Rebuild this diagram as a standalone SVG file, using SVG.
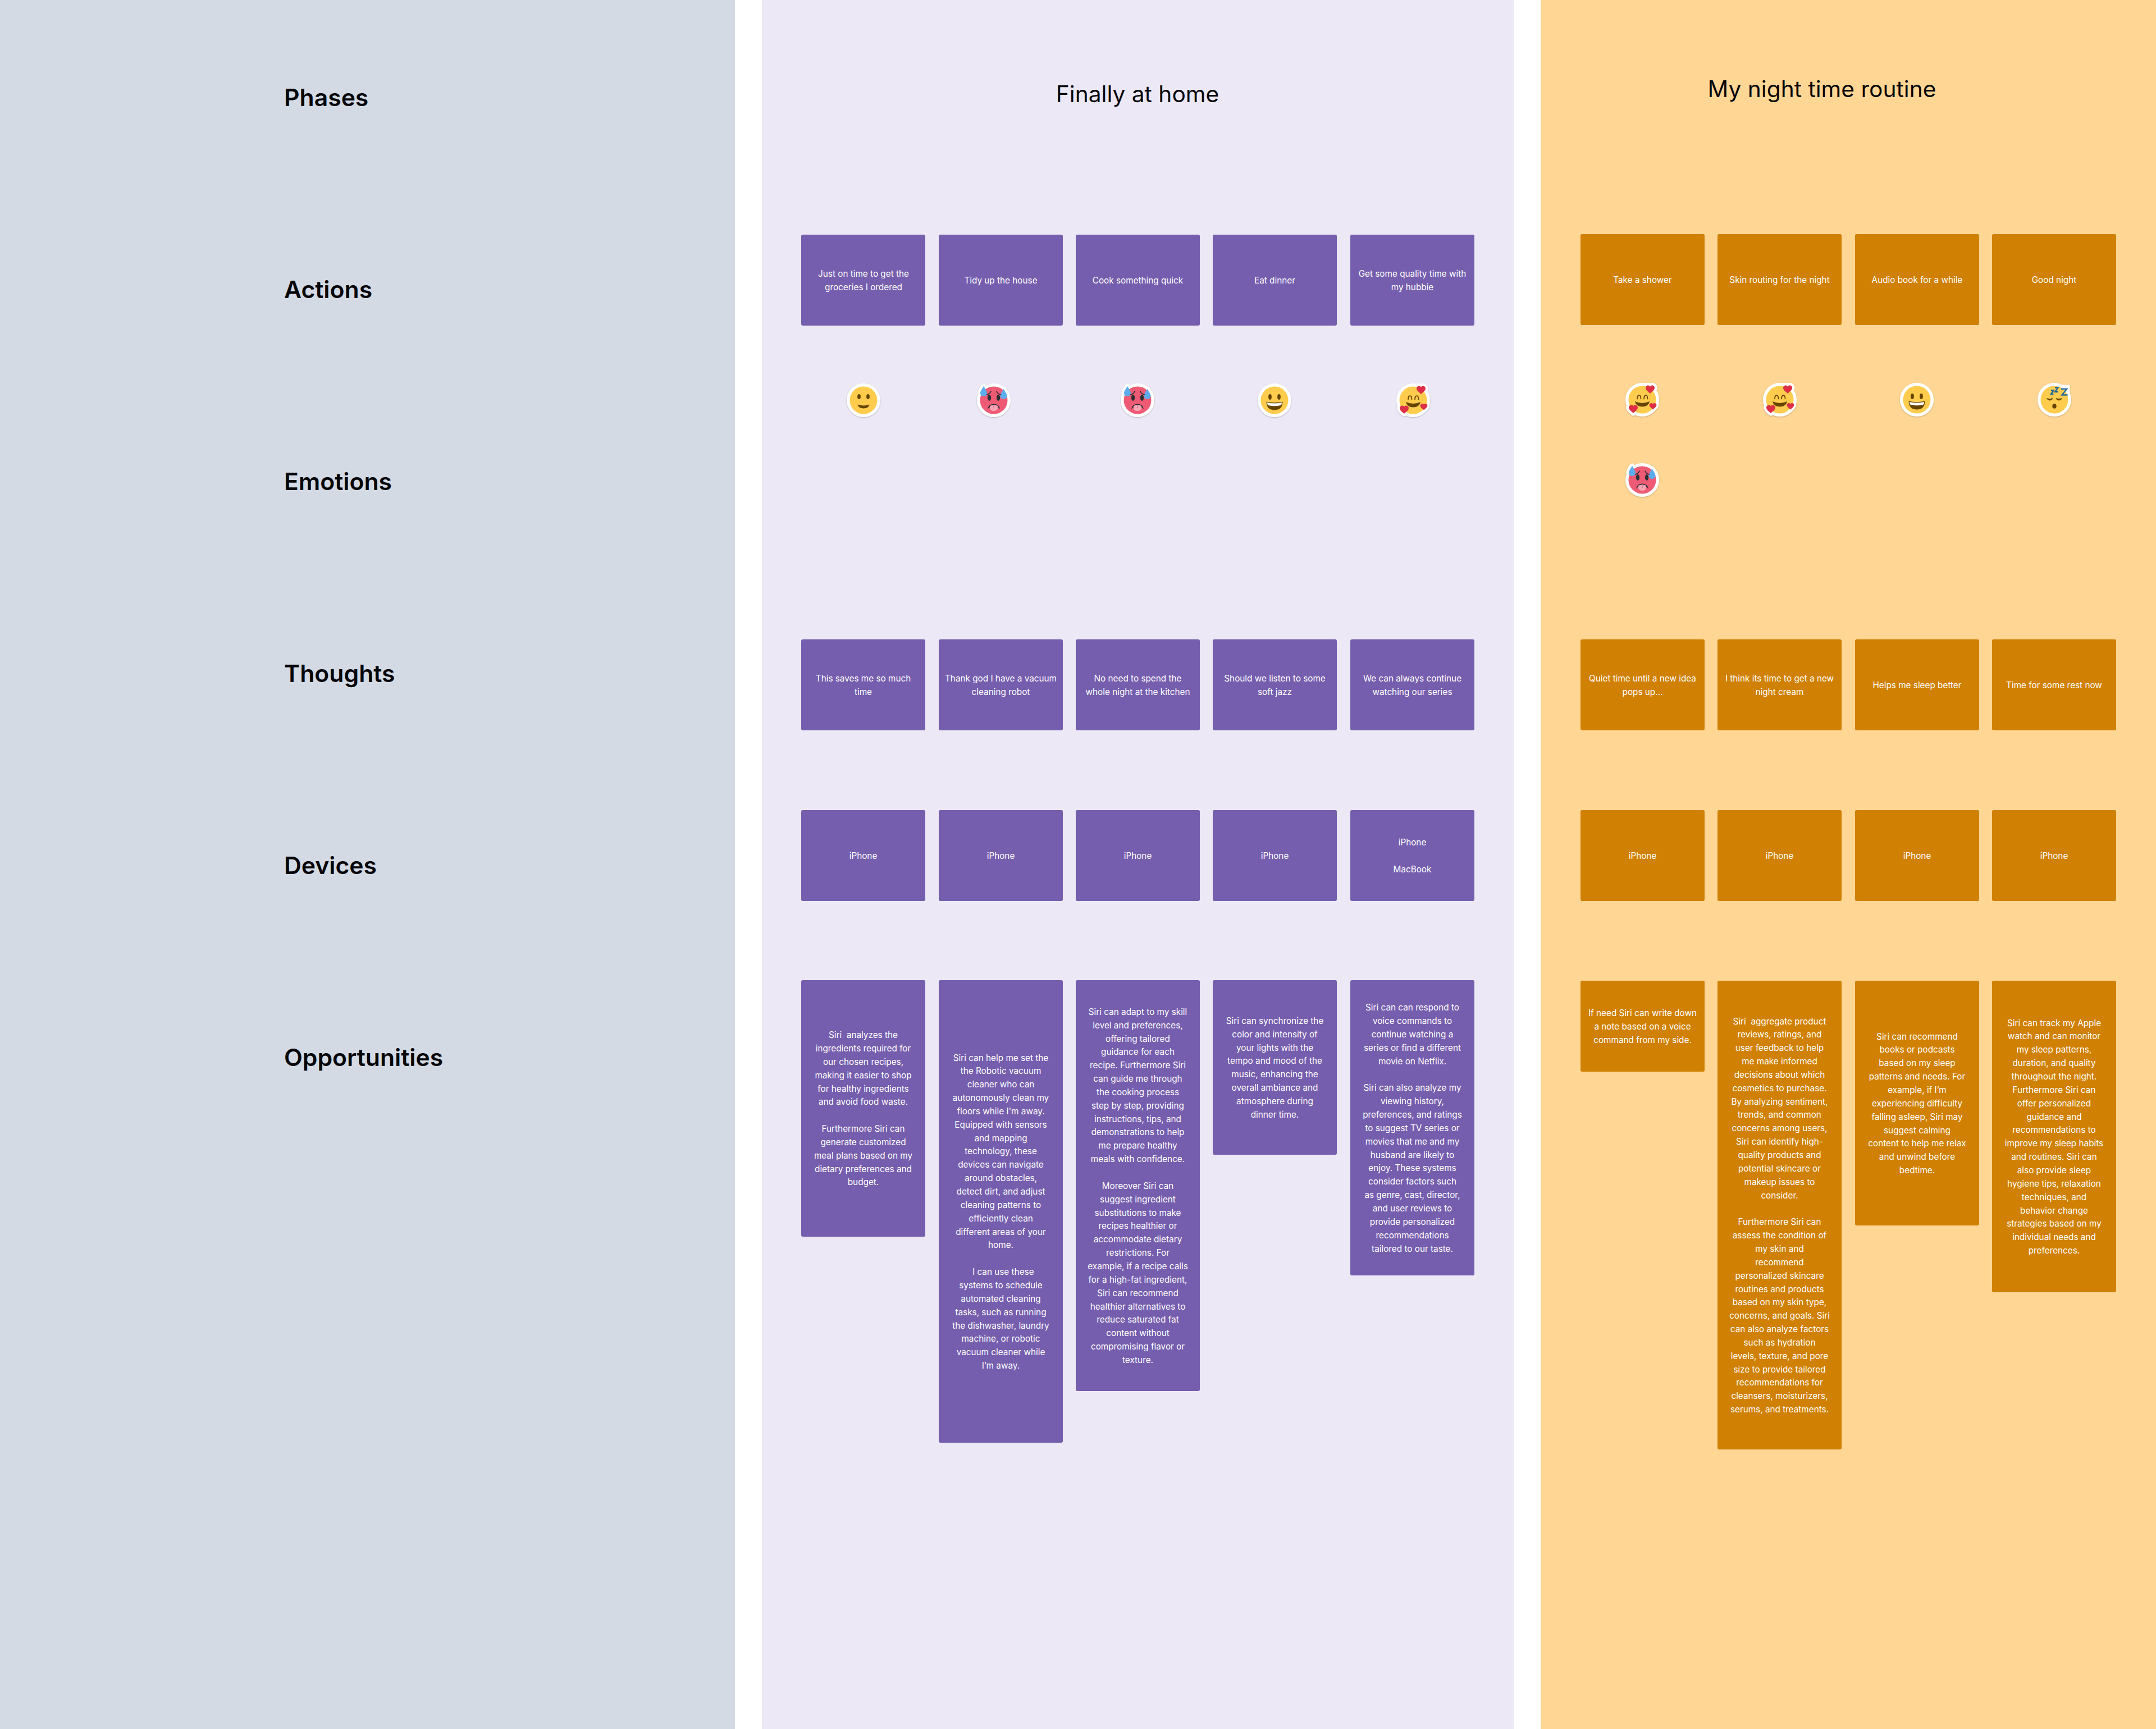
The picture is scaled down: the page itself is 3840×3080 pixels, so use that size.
<svg xmlns="http://www.w3.org/2000/svg" width="3840" height="3080" viewBox="0 0 3840 3080">
<style>
text{font-family:Inter,"Noto Sans","Liberation Sans",sans-serif}
.lab{font-size:42.7px;font-weight:600;fill:#050508}
.title{font-size:40.7px;font-weight:400;fill:#050508;text-anchor:middle}
.p{fill:#755eae}.o{fill:#d08002}
.t{font-size:15.3px;fill:#fff;text-anchor:middle;white-space:pre}
</style>
<defs>
<filter id="sh" x="-20%" y="-20%" width="140%" height="150%"><feDropShadow dx="0" dy="1" stdDeviation="1.2" flood-color="#000" flood-opacity=".25"/></filter>
<path id="heart" d="M0 7C-3 4 -8 1 -8 -3C-8 -6 -5.5 -7.5 -3.5 -7.5C-2 -7.5 -.6 -6.6 0 -5.2C.6 -6.6 2 -7.5 3.5 -7.5C5.5 -7.5 8 -6 8 -3C8 1 3 4 0 7Z"/>
<path id="drop" d="M0 -9C3 -4 6 0 6 3.2C6 6.6 3.3 9 0 9C-3.3 9 -6 6.6 -6 3.2C-6 0 -3 -4 0 -9Z"/>
<g id="e-smile" filter="url(#sh)">
<circle r="30" fill="#fff"/><circle r="24.5" fill="#ffcc4d"/>
<ellipse cx="-8" cy="-6.5" rx="2.9" ry="4.6" fill="#664500"/><ellipse cx="8" cy="-6.5" rx="2.9" ry="4.6" fill="#664500"/>
<path d="M-10.5 7.5Q0 11.5 10.5 7.5Q9 14.5 0 14.5Q-9 14.5 -10.5 7.5Z" fill="#664500"/>
</g>
<g id="e-grin" filter="url(#sh)">
<circle r="30" fill="#fff"/><circle r="24.5" fill="#ffcc4d"/>
<ellipse cx="-8" cy="-6" rx="2.9" ry="5" fill="#664500"/><ellipse cx="8" cy="-6" rx="2.9" ry="5" fill="#664500"/>
<path d="M-14.5 2.5Q0 6 14.5 2.5Q14 17.5 0 17.5Q-14 17.5 -14.5 2.5Z" fill="#664500"/>
<path d="M-13 4Q0 7 13 4Q13 8 11 9Q0 11.5 -11 9Q-13 8 -13 4Z" fill="#fff"/>
</g>
<g id="e-hot" filter="url(#sh)">
<circle r="30" fill="#fff"/>
<use href="#drop" x="-18" y="-16" fill="#fff" stroke="#fff" stroke-width="9" stroke-linejoin="round"/>
<use href="#drop" x="17.5" y="-11" fill="#fff" stroke="#fff" stroke-width="9" stroke-linejoin="round"/>
<circle r="24.5" fill="#ef5a74"/>
<use href="#drop" x="-18" y="-16" fill="#5dadec"/>
<use href="#drop" x="17.5" y="-11" fill="#5dadec"/>
<path d="M-12.5 -10Q-7 -11 -5 -16M12.5 -10Q7 -11 5 -16" fill="none" stroke="#292f33" stroke-width="1.6" stroke-linecap="round"/>
<ellipse cx="-8" cy="-4.5" rx="3.1" ry="5.4" fill="#292f33"/><ellipse cx="8" cy="-4.5" rx="3.1" ry="5.4" fill="#292f33"/>
<path d="M-11 16Q-10 7 0 6.5Q10 7 11 16Q8 11 0 10.5Q-8 11 -11 16Z" fill="#292f33"/>
<path d="M-7 10Q0 6.5 7 10V13Q7 19 0 19Q-7 19 -7 13Z" fill="#f8a4b6"/>
<path d="M0 8V14" stroke="#d9667e" stroke-width="1"/>
</g>
<g id="e-love" filter="url(#sh)">
<circle r="30" fill="#fff"/>
<use href="#heart" x="14" y="-18" fill="#fff" stroke="#fff" stroke-width="9" stroke-linejoin="round"/>
<use href="#heart" x="-16" y="17" fill="#fff" stroke="#fff" stroke-width="9" stroke-linejoin="round"/>
<g transform="translate(19 12) scale(.8)"><use href="#heart" fill="#fff" stroke="#fff" stroke-width="9" stroke-linejoin="round"/></g>
<circle r="24.5" fill="#ffcc4d"/>
<path d="M-9 -1.5C-9 -10 -2.5 -10 -2.5 -1.5M3 -1.5C3 -10 9.5 -10 9.5 -1.5" fill="none" stroke="#664500" stroke-width="1.7" stroke-linecap="round"/>
<path d="M-13 3Q0 9 13 3Q11 12.5 0 12.5Q-11 12.5 -13 3Z" fill="#664500"/>
<use href="#heart" x="14" y="-18" fill="#dd2e44"/>
<use href="#heart" x="-16" y="17" fill="#dd2e44"/>
<g transform="translate(19 12) scale(.8)"><use href="#heart" fill="#dd2e44"/></g>
</g>
<g id="e-sleep" filter="url(#sh)">
<circle r="30" fill="#fff"/>
<path d="M6 -25H26V-5H6Z" fill="#fff" stroke="#fff" stroke-width="3" stroke-linejoin="round"/>
<circle r="24.5" fill="#ffcc4d"/>
<path d="M-13 -2Q-8 3.5 -3.5 -2Q-8 0 -13 -2ZM3.5 -2Q8 3.5 13 -2Q8 0 3.5 -2Z" fill="#664500" stroke="#664500" stroke-width="1.6" stroke-linejoin="round"/>
<ellipse cx="0" cy="11.5" rx="3.7" ry="4.3" fill="#664500"/>
<path d="M-6 -16.5H-1.5L-6 -10H-1.5M1 -21.5H6.5L1 -14H6.5M12 -19H22L13.5 -8.5H23.5" fill="none" stroke="#226699" stroke-width="2.4"/>
</g>
</defs>

<g id="panels">
<rect id="panel-labels" x="0" y="0" width="1309" height="3080" fill="#d3dae4"/>
<rect id="panel-home" x="1357" y="0" width="1340" height="3080" fill="#ece8f6"/>
<rect id="panel-night" x="2744" y="0" width="1096" height="3080" fill="#ffd694"/>
</g>
<g id="connectors"/>

<g id="row-labels">
<text class="lab" x="506" y="189">Phases</text>
<text class="lab" x="506" y="531">Actions</text>
<text class="lab" x="506" y="873">Emotions</text>
<text class="lab" x="506" y="1215">Thoughts</text>
<text class="lab" x="506" y="1557">Devices</text>
<text class="lab" x="506" y="1899">Opportunities</text>
</g>
<text id="title-home" class="title" x="2026" y="182">Finally at home</text>
<text id="title-night" class="title" x="3245" y="173">My night time routine</text>

<g id="action-cards">
<g id="a1"><rect class="p" x="1427" y="418" width="221" height="162" rx="3"/><text class="t" x="1538" y="493">Just on time to get the<tspan x="1538" dy="23.85">groceries I ordered</tspan></text></g>
<g id="a2"><rect class="p" x="1672" y="418" width="221" height="162" rx="3"/><text class="t" x="1782.5" y="505">Tidy up the house</text></g>
<g id="a3"><rect class="p" x="1916" y="418" width="221" height="162" rx="3"/><text class="t" x="2026.5" y="505">Cook something quick</text></g>
<g id="a4"><rect class="p" x="2160" y="418" width="221" height="162" rx="3"/><text class="t" x="2270.5" y="505">Eat dinner</text></g>
<g id="a5"><rect class="p" x="2405" y="418" width="221" height="162" rx="3"/><text class="t" x="2515.5" y="493">Get some quality time with<tspan x="2515.5" dy="23.85">my hubbie</tspan></text></g>
<g id="a6"><rect class="o" x="2815" y="417" width="221" height="162" rx="3"/><text class="t" x="2925.5" y="504">Take a shower</text></g>
<g id="a7"><rect class="o" x="3059" y="417" width="221" height="162" rx="3"/><text class="t" x="3169.5" y="504">Skin routing for the night</text></g>
<g id="a8"><rect class="o" x="3304" y="417" width="221" height="162" rx="3"/><text class="t" x="3414.5" y="504">Audio book for a while</text></g>
<g id="a9"><rect class="o" x="3548" y="417" width="221" height="162" rx="3"/><text class="t" x="3658.5" y="504">Good night</text></g>
</g>

<g id="emotions">
<use id="em1" href="#e-smile" x="1538" y="713"/>
<use id="em2" href="#e-hot" x="1770" y="713"/>
<use id="em3" href="#e-hot" x="2026" y="713"/>
<use id="em4" href="#e-grin" x="2270" y="713"/>
<use id="em5" href="#e-love" x="2517" y="713"/>
<use id="em6" href="#e-love" x="2925" y="712"/>
<use id="em7" href="#e-love" x="3170" y="712"/>
<use id="em8" href="#e-grin" x="3414" y="712"/>
<use id="em9" href="#e-sleep" x="3659" y="712"/>
<use id="em10" href="#e-hot" x="2925" y="855"/>
</g>

<g id="thought-cards">
<g id="t1"><rect class="p" x="1427" y="1139" width="221" height="162" rx="3"/><text class="t" x="1537.5" y="1214">This saves me so much<tspan x="1537.5" dy="23.85">time</tspan></text></g>
<g id="t2"><rect class="p" x="1672" y="1139" width="221" height="162" rx="3"/><text class="t" x="1782.5" y="1214">Thank god I have a vacuum<tspan x="1782.5" dy="23.85">cleaning robot</tspan></text></g>
<g id="t3"><rect class="p" x="1916" y="1139" width="221" height="162" rx="3"/><text class="t" x="2026.5" y="1214">No need to spend the<tspan x="2026.5" dy="23.85">whole night at the kitchen</tspan></text></g>
<g id="t4"><rect class="p" x="2160" y="1139" width="221" height="162" rx="3"/><text class="t" x="2270.5" y="1214">Should we listen to some<tspan x="2270.5" dy="23.85">soft jazz</tspan></text></g>
<g id="t5"><rect class="p" x="2405" y="1139" width="221" height="162" rx="3"/><text class="t" x="2515.5" y="1214">We can always continue<tspan x="2515.5" dy="23.85">watching our series</tspan></text></g>
<g id="t6"><rect class="o" x="2815" y="1139" width="221" height="162" rx="3"/><text class="t" x="2925.5" y="1214">Quiet time until a new idea<tspan x="2925.5" dy="23.85">pops up...</tspan></text></g>
<g id="t7"><rect class="o" x="3059" y="1139" width="221" height="162" rx="3"/><text class="t" x="3169.5" y="1214">I think its time to get a new<tspan x="3169.5" dy="23.85">night cream</tspan></text></g>
<g id="t8"><rect class="o" x="3304" y="1139" width="221" height="162" rx="3"/><text class="t" x="3414.5" y="1226">Helps me sleep better</text></g>
<g id="t9"><rect class="o" x="3548" y="1139" width="221" height="162" rx="3"/><text class="t" x="3658.5" y="1226">Time for some rest now</text></g>
</g>

<g id="device-cards">
<g id="d1"><rect class="p" x="1427" y="1443" width="221" height="162" rx="3"/><text class="t" x="1537.5" y="1530">iPhone</text></g>
<g id="d2"><rect class="p" x="1672" y="1443" width="221" height="162" rx="3"/><text class="t" x="1782.5" y="1530">iPhone</text></g>
<g id="d3"><rect class="p" x="1916" y="1443" width="221" height="162" rx="3"/><text class="t" x="2026.5" y="1530">iPhone</text></g>
<g id="d4"><rect class="p" x="2160" y="1443" width="221" height="162" rx="3"/><text class="t" x="2270.5" y="1530">iPhone</text></g>
<g id="d5"><rect class="p" x="2405" y="1443" width="221" height="162" rx="3"/><text class="t" x="2515.5" y="1506">iPhone<tspan x="2515.5" dy="47.7">MacBook</tspan></text></g>
<g id="d6"><rect class="o" x="2815" y="1443" width="221" height="162" rx="3"/><text class="t" x="2925.5" y="1530">iPhone</text></g>
<g id="d7"><rect class="o" x="3059" y="1443" width="221" height="162" rx="3"/><text class="t" x="3169.5" y="1530">iPhone</text></g>
<g id="d8"><rect class="o" x="3304" y="1443" width="221" height="162" rx="3"/><text class="t" x="3414.5" y="1530">iPhone</text></g>
<g id="d9"><rect class="o" x="3548" y="1443" width="221" height="162" rx="3"/><text class="t" x="3658.5" y="1530">iPhone</text></g>
</g>

<g id="opportunity-cards">
<g id="o1"><rect class="p" x="1427" y="1746" width="221" height="457" rx="3"/><text class="t" y="1849.1"><tspan x="1537.5">Siri  analyzes the</tspan><tspan x="1537.5" dy="23.85">ingredients required for</tspan><tspan x="1537.5" dy="23.85">our chosen recipes,</tspan><tspan x="1537.5" dy="23.85">making it easier to shop</tspan><tspan x="1537.5" dy="23.85">for healthy ingredients</tspan><tspan x="1537.5" dy="23.85">and avoid food waste.</tspan><tspan x="1537.5" dy="47.7">Furthermore Siri can</tspan><tspan x="1537.5" dy="23.85">generate customized</tspan><tspan x="1537.5" dy="23.85">meal plans based on my</tspan><tspan x="1537.5" dy="23.85">dietary preferences and</tspan><tspan x="1537.5" dy="23.85">budget.</tspan></text></g>
<g id="o2"><rect class="p" x="1672" y="1746" width="221" height="824" rx="3"/><text class="t" y="1889.5"><tspan x="1782.5">Siri can help me set the</tspan><tspan x="1782.5" dy="23.85">the Robotic vacuum</tspan><tspan x="1782.5" dy="23.85">cleaner who can</tspan><tspan x="1782.5" dy="23.85">autonomously clean my</tspan><tspan x="1782.5" dy="23.85">floors while I'm away.</tspan><tspan x="1782.5" dy="23.85">Equipped with sensors</tspan><tspan x="1782.5" dy="23.85">and mapping</tspan><tspan x="1782.5" dy="23.85">technology, these</tspan><tspan x="1782.5" dy="23.85">devices can navigate</tspan><tspan x="1782.5" dy="23.85">around obstacles,</tspan><tspan x="1782.5" dy="23.85">detect dirt, and adjust</tspan><tspan x="1782.5" dy="23.85">cleaning patterns to</tspan><tspan x="1782.5" dy="23.85">efficiently clean</tspan><tspan x="1782.5" dy="23.85">different areas of your</tspan><tspan x="1782.5" dy="23.85">home.</tspan><tspan x="1782.5" dy="47.7">  I can use these</tspan><tspan x="1782.5" dy="23.85">systems to schedule</tspan><tspan x="1782.5" dy="23.85">automated cleaning</tspan><tspan x="1782.5" dy="23.85">tasks, such as running</tspan><tspan x="1782.5" dy="23.85">the dishwasher, laundry</tspan><tspan x="1782.5" dy="23.85">machine, or robotic</tspan><tspan x="1782.5" dy="23.85">vacuum cleaner while</tspan><tspan x="1782.5" dy="23.85">I’m away.</tspan></text></g>
<g id="o3"><rect class="p" x="1916" y="1746" width="221" height="732" rx="3"/><text class="t" y="1807.8"><tspan x="2026.5">Siri can adapt to my skill</tspan><tspan x="2026.5" dy="23.85">level and preferences,</tspan><tspan x="2026.5" dy="23.85">offering tailored</tspan><tspan x="2026.5" dy="23.85">guidance for each</tspan><tspan x="2026.5" dy="23.85">recipe. Furthermore Siri</tspan><tspan x="2026.5" dy="23.85">can guide me through</tspan><tspan x="2026.5" dy="23.85">the cooking process</tspan><tspan x="2026.5" dy="23.85">step by step, providing</tspan><tspan x="2026.5" dy="23.85">instructions, tips, and</tspan><tspan x="2026.5" dy="23.85">demonstrations to help</tspan><tspan x="2026.5" dy="23.85">me prepare healthy</tspan><tspan x="2026.5" dy="23.85">meals with confidence.</tspan><tspan x="2026.5" dy="47.7">Moreover Siri can</tspan><tspan x="2026.5" dy="23.85">suggest ingredient</tspan><tspan x="2026.5" dy="23.85">substitutions to make</tspan><tspan x="2026.5" dy="23.85">recipes healthier or</tspan><tspan x="2026.5" dy="23.85">accommodate dietary</tspan><tspan x="2026.5" dy="23.85">restrictions. For</tspan><tspan x="2026.5" dy="23.85">example, if a recipe calls</tspan><tspan x="2026.5" dy="23.85">for a high-fat ingredient,</tspan><tspan x="2026.5" dy="23.85">Siri can recommend</tspan><tspan x="2026.5" dy="23.85">healthier alternatives to</tspan><tspan x="2026.5" dy="23.85">reduce saturated fat</tspan><tspan x="2026.5" dy="23.85">content without</tspan><tspan x="2026.5" dy="23.85">compromising flavor or</tspan><tspan x="2026.5" dy="23.85">texture.</tspan></text></g>
<g id="o4"><rect class="p" x="2160" y="1746" width="221" height="311" rx="3"/><text class="t" y="1823.8"><tspan x="2270.5">Siri can synchronize the</tspan><tspan x="2270.5" dy="23.85">color and intensity of</tspan><tspan x="2270.5" dy="23.85">your lights with the</tspan><tspan x="2270.5" dy="23.85">tempo and mood of the</tspan><tspan x="2270.5" dy="23.85">music, enhancing the</tspan><tspan x="2270.5" dy="23.85">overall ambiance and</tspan><tspan x="2270.5" dy="23.85">atmosphere during</tspan><tspan x="2270.5" dy="23.85">dinner time.</tspan></text></g>
<g id="o5"><rect class="p" x="2405" y="1746" width="221" height="526" rx="3"/><text class="t" y="1800.2"><tspan x="2515.5">Siri can can respond to</tspan><tspan x="2515.5" dy="23.85">voice commands to</tspan><tspan x="2515.5" dy="23.85">continue watching a</tspan><tspan x="2515.5" dy="23.85">series or find a different</tspan><tspan x="2515.5" dy="23.85">movie on Netflix.</tspan><tspan x="2515.5" dy="47.7">Siri can also analyze my</tspan><tspan x="2515.5" dy="23.85">viewing history,</tspan><tspan x="2515.5" dy="23.85">preferences, and ratings</tspan><tspan x="2515.5" dy="23.85">to suggest TV series or</tspan><tspan x="2515.5" dy="23.85">movies that me and my</tspan><tspan x="2515.5" dy="23.85">husband are likely to</tspan><tspan x="2515.5" dy="23.85">enjoy. These systems</tspan><tspan x="2515.5" dy="23.85">consider factors such</tspan><tspan x="2515.5" dy="23.85">as genre, cast, director,</tspan><tspan x="2515.5" dy="23.85">and user reviews to</tspan><tspan x="2515.5" dy="23.85">provide personalized</tspan><tspan x="2515.5" dy="23.85">recommendations</tspan><tspan x="2515.5" dy="23.85">tailored to our taste.</tspan></text></g>
<g id="o6"><rect class="o" x="2815" y="1747" width="221" height="162" rx="3"/><text class="t" y="1810"><tspan x="2925.5">If need Siri can write down</tspan><tspan x="2925.5" dy="23.85">a note based on a voice</tspan><tspan x="2925.5" dy="23.85">command from my side.</tspan></text></g>
<g id="o7"><rect class="o" x="3059" y="1747" width="221" height="835" rx="3"/><text class="t" y="1824.5"><tspan x="3169.5">Siri  aggregate product</tspan><tspan x="3169.5" dy="23.85">reviews, ratings, and</tspan><tspan x="3169.5" dy="23.85">user feedback to help</tspan><tspan x="3169.5" dy="23.85">me make informed</tspan><tspan x="3169.5" dy="23.85">decisions about which</tspan><tspan x="3169.5" dy="23.85">cosmetics to purchase.</tspan><tspan x="3169.5" dy="23.85">By analyzing sentiment,</tspan><tspan x="3169.5" dy="23.85">trends, and common</tspan><tspan x="3169.5" dy="23.85">concerns among users,</tspan><tspan x="3169.5" dy="23.85">Siri can identify high-</tspan><tspan x="3169.5" dy="23.85">quality products and</tspan><tspan x="3169.5" dy="23.85">potential skincare or</tspan><tspan x="3169.5" dy="23.85">makeup issues to</tspan><tspan x="3169.5" dy="23.85">consider.</tspan><tspan x="3169.5" dy="47.7">Furthermore Siri can</tspan><tspan x="3169.5" dy="23.85">assess the condition of</tspan><tspan x="3169.5" dy="23.85">my skin and</tspan><tspan x="3169.5" dy="23.85">recommend</tspan><tspan x="3169.5" dy="23.85">personalized skincare</tspan><tspan x="3169.5" dy="23.85">routines and products</tspan><tspan x="3169.5" dy="23.85">based on my skin type,</tspan><tspan x="3169.5" dy="23.85">concerns, and goals. Siri</tspan><tspan x="3169.5" dy="23.85">can also analyze factors</tspan><tspan x="3169.5" dy="23.85">such as hydration</tspan><tspan x="3169.5" dy="23.85">levels, texture, and pore</tspan><tspan x="3169.5" dy="23.85">size to provide tailored</tspan><tspan x="3169.5" dy="23.85">recommendations for</tspan><tspan x="3169.5" dy="23.85">cleansers, moisturizers,</tspan><tspan x="3169.5" dy="23.85">serums, and treatments.</tspan></text></g>
<g id="o8"><rect class="o" x="3304" y="1747" width="221" height="436" rx="3"/><text class="t" y="1851.6"><tspan x="3414.5">Siri can recommend</tspan><tspan x="3414.5" dy="23.85">books or podcasts</tspan><tspan x="3414.5" dy="23.85">based on my sleep</tspan><tspan x="3414.5" dy="23.85">patterns and needs. For</tspan><tspan x="3414.5" dy="23.85">example, if I’m</tspan><tspan x="3414.5" dy="23.85">experiencing difficulty</tspan><tspan x="3414.5" dy="23.85">falling asleep, Siri may</tspan><tspan x="3414.5" dy="23.85">suggest calming</tspan><tspan x="3414.5" dy="23.85">content to help me relax</tspan><tspan x="3414.5" dy="23.85">and unwind before</tspan><tspan x="3414.5" dy="23.85">bedtime.</tspan></text></g>
<g id="o9"><rect class="o" x="3548" y="1747" width="221" height="555" rx="3"/><text class="t" y="1827.6"><tspan x="3658.5">Siri can track my Apple</tspan><tspan x="3658.5" dy="23.85">watch and can monitor</tspan><tspan x="3658.5" dy="23.85">my sleep patterns,</tspan><tspan x="3658.5" dy="23.85">duration, and quality</tspan><tspan x="3658.5" dy="23.85">throughout the night.</tspan><tspan x="3658.5" dy="23.85">Furthermore Siri can</tspan><tspan x="3658.5" dy="23.85">offer personalized</tspan><tspan x="3658.5" dy="23.85">guidance and</tspan><tspan x="3658.5" dy="23.85">recommendations to</tspan><tspan x="3658.5" dy="23.85">improve my sleep habits</tspan><tspan x="3658.5" dy="23.85">and routines. Siri can</tspan><tspan x="3658.5" dy="23.85">also provide sleep</tspan><tspan x="3658.5" dy="23.85">hygiene tips, relaxation</tspan><tspan x="3658.5" dy="23.85">techniques, and</tspan><tspan x="3658.5" dy="23.85">behavior change</tspan><tspan x="3658.5" dy="23.85">strategies based on my</tspan><tspan x="3658.5" dy="23.85">individual needs and</tspan><tspan x="3658.5" dy="23.85">preferences.</tspan></text></g>
</g>
</svg>
